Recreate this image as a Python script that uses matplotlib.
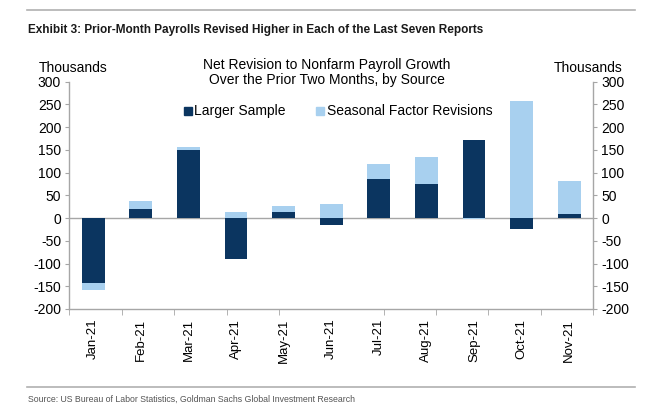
import numpy as np
import matplotlib
matplotlib.use("Agg")
import matplotlib.pyplot as plt
from matplotlib.patches import Rectangle

plt.rcParams['font.family'] = ['Liberation Sans', 'DejaVu Sans']

months = ['Jan-21', 'Feb-21', 'Mar-21', 'Apr-21', 'May-21', 'Jun-21',
          'Jul-21', 'Aug-21', 'Sep-21', 'Oct-21', 'Nov-21']
larger_sample = [-143, 20, 150, -91, 13, -15, 86, 74, 172, -23, 9]
seasonal = [-15, 18, 6, 13, 14, 31, 33, 60, -2, 258, 73]
y_ticks = [-200, -150, -100, -50, 0, 50, 100, 150, 200, 250, 300]

dark = '#0b3560'
light = '#a8d0ef'
grey = '#a6a6a6'

fig = plt.figure(figsize=(6.5, 4.09), dpi=100)
ax = fig.add_axes([0.1069, 0.2445, 0.8054, 0.5557])

x = np.arange(len(months))
ax.bar(x, larger_sample, width=0.48, color=dark, zorder=2)
# light segment stacks on the dark one when same sign, else starts at zero
light_bottom = [d if (d >= 0) == (s >= 0) else 0 for d, s in zip(larger_sample, seasonal)]
ax.bar(x, seasonal, width=0.48, bottom=light_bottom, color=light, zorder=2)

ax.axhline(0, color=grey, lw=1, zorder=1)
ax.set_xlim(-0.5, len(months) - 0.5)
ax.set_ylim(-200, 300)
ax.set_yticks(y_ticks)
ax.set_yticklabels([str(v) for v in y_ticks])

ax.set_xticks(x)
ax.set_xticklabels(months, rotation=90)
ax.set_xticks(np.linspace(-0.5, len(months) - 0.5, 11), minor=True)
ax.tick_params(axis='x', which='major', length=0, pad=7, labelsize=9.5)
ax.tick_params(axis='x', which='minor', length=4, color=grey, direction='out')
ax.tick_params(axis='y', length=3, color=grey, direction='out', labelsize=10,
               right=True, labelright=True, pad=3)

for side in ['left', 'right', 'bottom']:
    ax.spines[side].set_color(grey)
    ax.spines[side].set_linewidth(1)
ax.spines['top'].set_visible(False)

# chart headings and units
fig.text(0.503, 0.823, 'Net Revision to Nonfarm Payroll Growth\nOver the Prior Two Months, by Source',
         ha='center', va='center', fontsize=10, linespacing=1.05)
fig.text(0.06, 0.834, 'Thousands', ha='left', va='center', fontsize=10)
fig.text(0.957, 0.834, 'Thousands', ha='right', va='center', fontsize=10)

# legend
ly = 1 - 111 / 409
fig.patches.append(Rectangle((184 / 650, ly - 4 / 409), 8 / 650, 8 / 409,
                             transform=fig.transFigure, color=dark))
fig.text(194 / 650, ly, 'Larger Sample', ha='left', va='center', fontsize=10)
fig.patches.append(Rectangle((316 / 650, ly - 4 / 409), 8 / 650, 8 / 409,
                             transform=fig.transFigure, color=light))
fig.text(327 / 650, ly, 'Seasonal Factor Revisions', ha='left', va='center', fontsize=10)

# exhibit frame
fig.add_artist(plt.Line2D([27 / 650, 635 / 650], [1 - 10 / 409, 1 - 10 / 409],
                          color='#b0b0b0', lw=1.2, transform=fig.transFigure))
fig.add_artist(plt.Line2D([27 / 650, 635 / 650], [1 - 387 / 409, 1 - 387 / 409],
                          color='#b0b0b0', lw=1.2, transform=fig.transFigure))
fig.text(28 / 650, 1 - 30 / 409,
         'Exhibit 3: Prior-Month Payrolls Revised Higher in Each of the Last Seven Reports',
         fontweight='bold', fontsize=8.5, ha='left', va='center', color='#1a1a1a')
fig.text(28 / 650, 1 - 399 / 409,
         'Source: US Bureau of Labor Statistics, Goldman Sachs Global Investment Research',
         fontsize=6.3, ha='left', va='center', color='#555555')

fig.savefig('out.png', dpi=100)
